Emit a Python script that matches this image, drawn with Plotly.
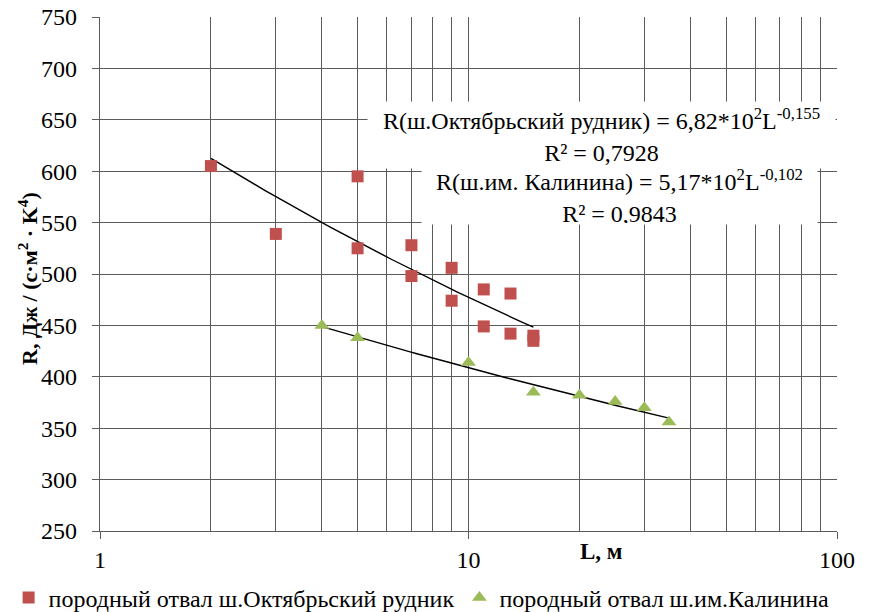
import numpy as np
import plotly.graph_objects as go

# ---- data ----
okt_L = [2, 3, 5, 5, 7, 7, 9, 9, 11, 11, 13, 13, 15, 15]
okt_R = [605, 539, 595, 525, 528, 498, 506, 474, 485, 449, 481, 442, 440, 435]

kal_L = [4, 5, 10, 15, 20, 25, 30, 35]
kal_R = [450, 438, 414, 385, 382, 376, 370, 356]

# trend-line coefficients shown on the chart (R = a * L^b)
okt_a, okt_b = 682.0, -0.155
kal_a, kal_b = 517.0, -0.102

okt_name = "породный отвал ш.Октябрьский рудник"
kal_name = "породный отвал ш.им.Калинина"

eq_okt = "R(ш.Октябрьский рудник) = 6,82*10<sup>2</sup>L<sup>-0,155</sup><br>R² = 0,7928"
eq_kal = "R(ш.им. Калинина) = 5,17*10<sup>2</sup>L<sup>-0,102</sup><br>R² = 0,9843"

y_ticks = [250, 300, 350, 400, 450, 500, 550, 600, 650, 700, 750]

FONT = "Liberation Serif"
GRID = "#5a5a5a"
RED = "#C0504D"
GREEN = "#9BBB59"

def trend(a, b, xs):
    lx = np.logspace(np.log10(min(xs)), np.log10(max(xs)), 60)
    return lx, a * lx ** b

fig = go.Figure()

tx, ty = trend(okt_a, okt_b, okt_L)
fig.add_trace(go.Scatter(x=tx, y=ty, mode="lines", line=dict(color="black", width=1.4),
                         showlegend=False, hoverinfo="skip"))
tx2, ty2 = trend(kal_a, kal_b, kal_L)
fig.add_trace(go.Scatter(x=tx2, y=ty2, mode="lines", line=dict(color="black", width=1.4),
                         showlegend=False, hoverinfo="skip"))

fig.add_trace(go.Scatter(x=okt_L, y=okt_R, mode="markers", name=okt_name,
                         marker=dict(symbol="square", size=12, color=RED)))
fig.add_trace(go.Scatter(x=kal_L, y=kal_R, mode="markers", name=kal_name,
                         marker=dict(symbol="triangle-up", size=13, color=GREEN)))

fig.update_layout(
    width=872, height=612,
    margin=dict(l=100, r=35, t=17, b=81, autoexpand=False),
    paper_bgcolor="white", plot_bgcolor="white",
    font=dict(family=FONT, size=24, color="black"),
    showlegend=True,
    legend=dict(orientation="h", x=-0.124, xanchor="left", y=-0.13, yanchor="middle",
                font=dict(family=FONT, size=24, color="black"),
                itemwidth=30, tracegroupgap=0, bgcolor="rgba(0,0,0,0)"),
    xaxis=dict(type="log", range=[0, 2], dtick=1, automargin=False,
               showgrid=True, gridcolor=GRID, gridwidth=1.4,
               minor=dict(dtick="D1", showgrid=True, gridcolor=GRID, gridwidth=1.4, ticks=""),
               showline=True, linecolor=GRID, linewidth=1.4,
               ticks="outside", ticklen=7, tickcolor=GRID, tickwidth=1.4,
               tickfont=dict(family=FONT, size=24, color="black"),
               zeroline=False),
    yaxis=dict(range=[250, 750], tickvals=y_ticks, automargin=False,
               showgrid=True, gridcolor=GRID, gridwidth=1.4,
               showline=True, linecolor=GRID, linewidth=1.4,
               ticks="outside", ticklen=7, tickcolor=GRID, tickwidth=1.4,
               ticklabelstandoff=10,
               tickfont=dict(family=FONT, size=24, color="black"),
               zeroline=False),
)

# equation labels (white boxes over the grid)
fig.add_annotation(xref="paper", yref="paper", x=0.680, y=0.770, xanchor="center", yanchor="middle",
                   text=eq_okt, showarrow=False, bgcolor="white", width=465, height=64,
                   font=dict(family=FONT, size=24, color="black"), align="center")
fig.add_annotation(xref="paper", yref="paper", x=0.705, y=0.652, xanchor="center", yanchor="middle",
                   text=eq_kal, showarrow=False, bgcolor="white", width=393, height=54,
                   font=dict(family=FONT, size=24, color="black"), align="center")

# axis titles
fig.add_annotation(xref="paper", yref="paper", x=-0.098, y=0.492, xanchor="center", yanchor="middle",
                   text="<b>R, Дж / (с·м<sup>2</sup> · K<sup>4</sup>)</b>",
                   textangle=-90, showarrow=False,
                   font=dict(family=FONT, size=22, color="black"))
fig.add_annotation(xref="paper", yref="paper", x=0.68, y=-0.012, xanchor="center", yanchor="top",
                   text="<b>L, м</b>", showarrow=False,
                   font=dict(family=FONT, size=23, color="black"))

fig.write_html("out.html", config={"displayModeBar": False},
               post_script="document.body.style.margin='0px';")
